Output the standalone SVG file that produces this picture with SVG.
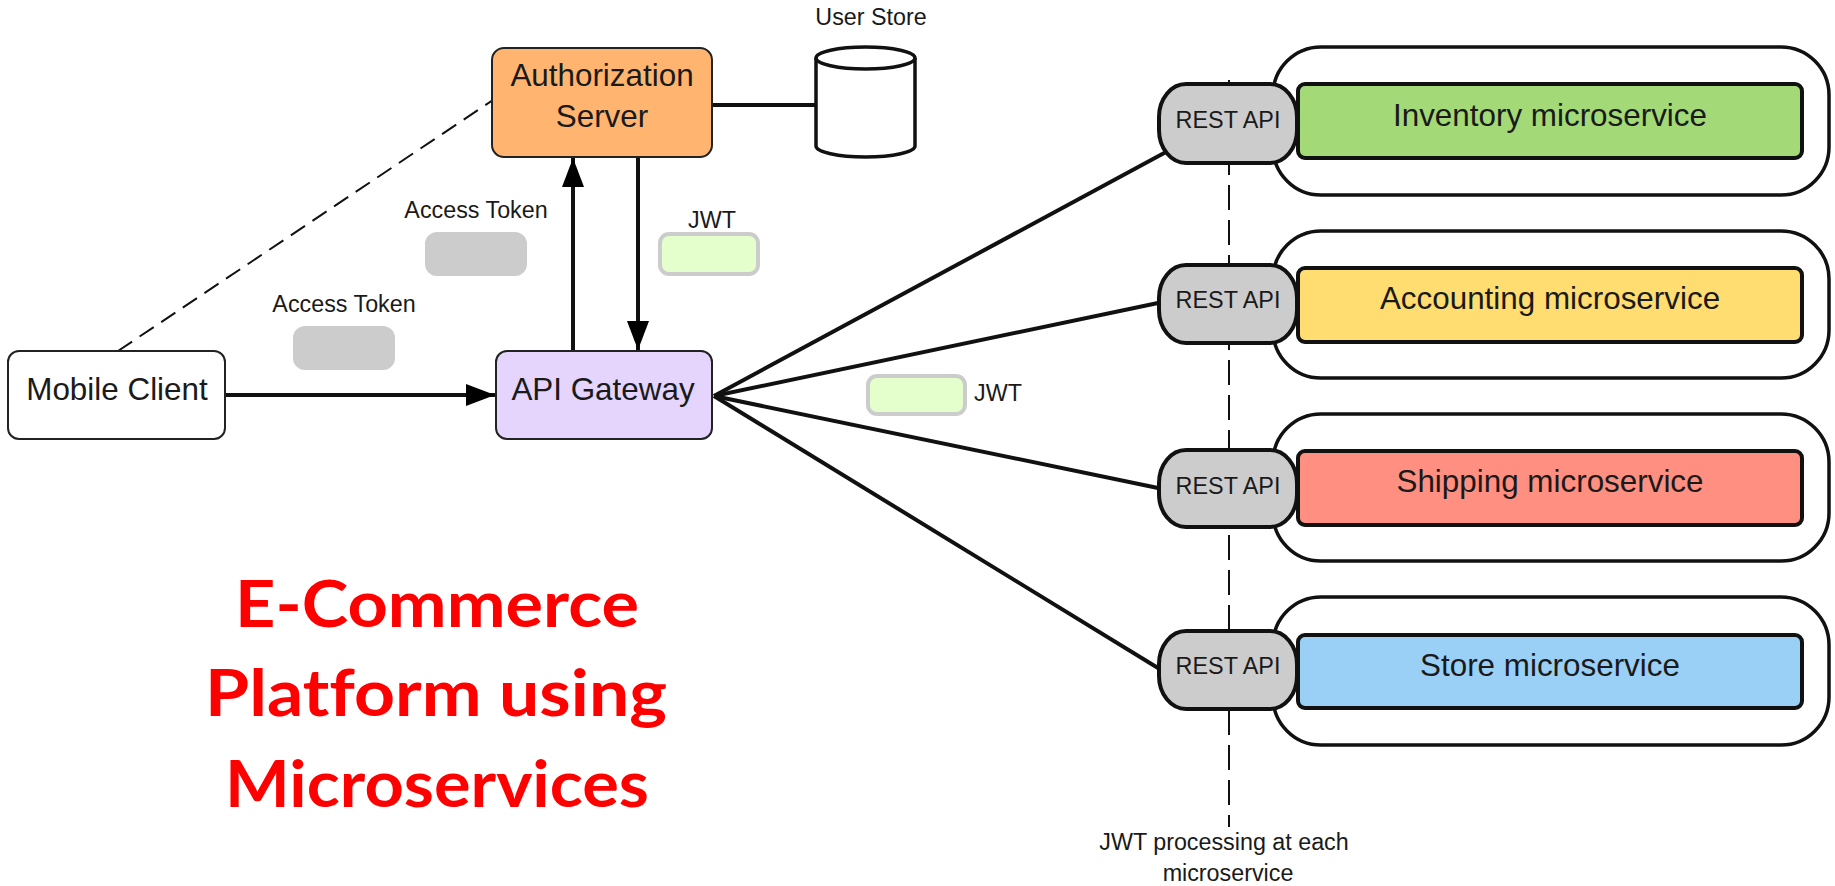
<svg xmlns="http://www.w3.org/2000/svg" width="1835" height="886" viewBox="0 0 1835 886">
<style>
text{font-family:"Liberation Sans",Arial,sans-serif;fill:#1a1a1a;text-anchor:middle}
.s{font-size:23.300px}.m{font-size:23.400px}.l{font-size:31.400px}
.k{stroke:#111;fill:none}
.node{stroke:#222;stroke-width:2}
.chipg{fill:#ccc;stroke:#ccc;stroke-width:2}
.chipj{fill:#e5ffcc;stroke:#ccc;stroke-width:4}
.outer{fill:#fff;stroke:#111;stroke-width:3.500}
.rest{fill:#ccc;stroke:#111;stroke-width:4}
.svc{stroke:#111;stroke-width:4}
.title{font-family:"Lato","Noto Sans",sans-serif;font-weight:700;font-size:65px;fill:#f00;font-variant-ligatures:none}
</style>
<defs>
<marker id="ah" markerUnits="userSpaceOnUse" markerWidth="30" markerHeight="24" refX="29" refY="12" orient="auto"><path d="M0 1L29 12L0 23Z" fill="#000"/></marker>
</defs>
<rect width="1835" height="886" fill="#fff"/>
<g id="connectors">
<path class="k" stroke-width="2" stroke-dasharray="17 9" d="M118 351L496 98"/>
<path class="k" stroke-width="4" marker-end="url(#ah)" d="M225 395H495"/>
<path class="k" stroke-width="4" marker-end="url(#ah)" d="M573 351V158"/>
<path class="k" stroke-width="4" marker-end="url(#ah)" d="M638 157V350"/>
<path class="k" stroke-width="4" d="M714 396L1166 152"/>
<path class="k" stroke-width="4" d="M714 396L1158 303"/>
<path class="k" stroke-width="4" d="M714 396L1158 488"/>
<path class="k" stroke-width="4" d="M714 396L1158 668"/>
<path class="k" stroke-width="4" d="M712 105H816"/>
<path class="k" stroke-width="2" stroke-dasharray="25 10" d="M1229 80V827"/>
</g>
<g id="user-store"><path d="M816 58V146A49.500 11 0 0 0 915 146V58A49.500 11 0 0 0 816 58Z" fill="#fff" stroke="#111" stroke-width="3.500"/><path d="M816 58A49.500 11 0 0 0 915 58" fill="none" stroke="#111" stroke-width="3.500"/><text class="s" x="871" y="25">User Store</text></g>
<g id="authorization-server"><rect class="node" x="492" y="48" width="220" height="109" rx="12" fill="#ffb570"/><text class="l" x="602" y="86">Authorization</text><text class="l" x="602" y="127">Server</text></g>
<g id="access-token-upper"><text class="s" x="476" y="218">Access Token</text><rect class="chipg" x="426" y="233" width="100" height="42" rx="11"/></g>
<g id="jwt-upper"><text class="s" x="712" y="228">JWT</text><rect class="chipj" x="660" y="234" width="98" height="40" rx="9"/></g>
<g id="access-token-lower"><text class="s" x="344" y="312">Access Token</text><rect class="chipg" x="294" y="327" width="100" height="42" rx="11"/></g>
<g id="mobile-client"><rect class="node" x="8" y="351" width="217" height="88" rx="11" fill="#fff"/><text class="l" x="117" y="400">Mobile Client</text></g>
<g id="api-gateway"><rect class="node" x="496" y="351" width="216" height="88" rx="11" fill="#e5d4fb"/><text class="l" x="603" y="400">API Gateway</text></g>
<g id="jwt-lower"><rect class="chipj" x="868" y="376" width="97" height="38" rx="9"/><text class="s" x="998" y="401">JWT</text></g>
<g id="inventory"><rect class="outer" x="1273" y="47" width="556" height="148" rx="48"/><rect class="svc" x="1298" y="84" width="504" height="74" rx="7" fill="#a3d977"/><rect class="rest" x="1159" y="84" width="138" height="79" rx="27" ry="33"/><text class="m" x="1228" y="128">REST API</text><text class="l" x="1550" y="126">Inventory microservice</text></g>
<g id="accounting"><rect class="outer" x="1273" y="231" width="556" height="147" rx="48"/><rect class="svc" x="1298" y="268" width="504" height="74" rx="7" fill="#ffdd71"/><rect class="rest" x="1159" y="265" width="138" height="78" rx="27" ry="33"/><text class="m" x="1228" y="308">REST API</text><text class="l" x="1550" y="309">Accounting microservice</text></g>
<g id="shipping"><rect class="outer" x="1273" y="414" width="556" height="147" rx="48"/><rect class="svc" x="1298" y="451" width="504" height="74" rx="7" fill="#ff8f80"/><rect class="rest" x="1159" y="450" width="138" height="77" rx="27" ry="33"/><text class="m" x="1228" y="494">REST API</text><text class="l" x="1550" y="492">Shipping microservice</text></g>
<g id="store"><rect class="outer" x="1273" y="597" width="556" height="148" rx="48"/><rect class="svc" x="1298" y="635" width="504" height="73" rx="7" fill="#9ad0f5"/><rect class="rest" x="1159" y="631" width="138" height="78" rx="27" ry="33"/><text class="m" x="1228" y="674">REST API</text><text class="l" x="1550" y="676">Store microservice</text></g>
<g id="jwt-note"><text class="s" x="1224" y="850">JWT processing at each</text><text class="s" x="1228" y="881">microservice</text></g>
<g id="title"><text class="title" x="437" y="627" textLength="404" lengthAdjust="spacingAndGlyphs">E-Commerce</text><text class="title" x="436" y="716" textLength="462" lengthAdjust="spacingAndGlyphs">Platform using</text><text class="title" x="437" y="807" textLength="424" lengthAdjust="spacingAndGlyphs">Microservices</text></g>
</svg>
